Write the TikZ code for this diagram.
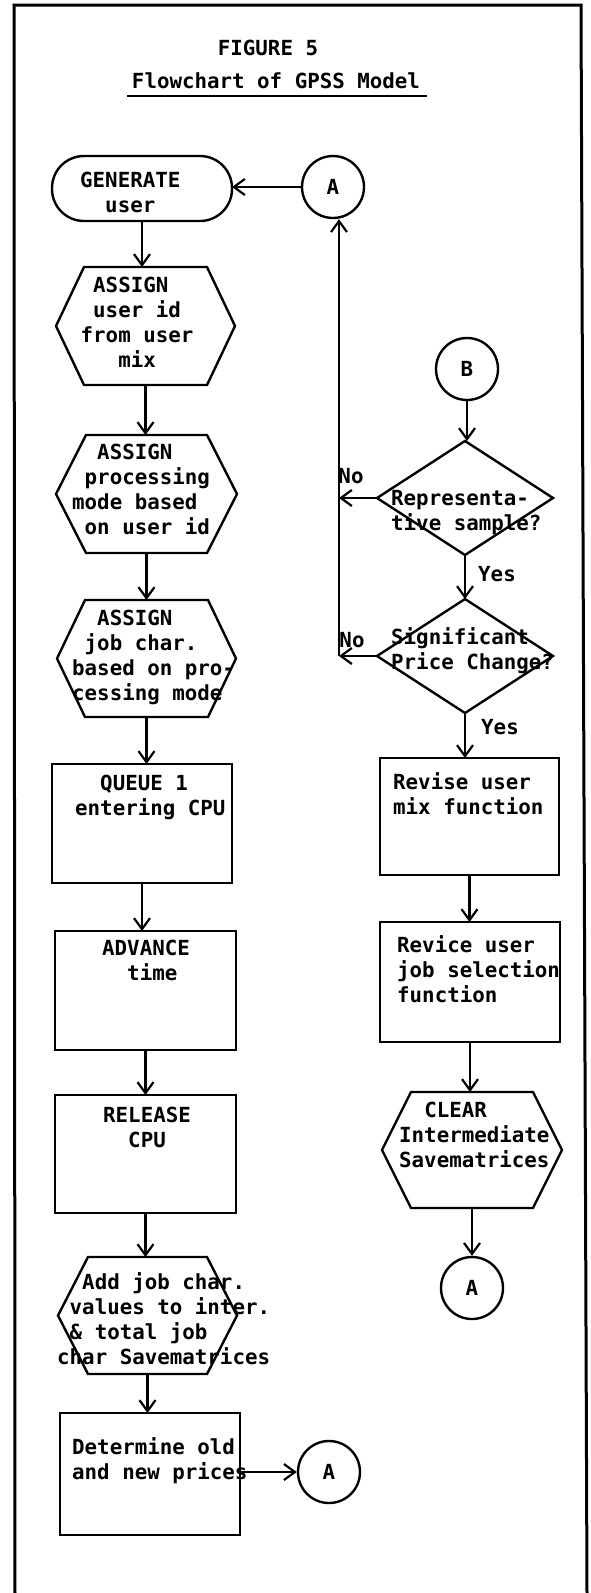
\documentclass[tikz,border=0pt]{standalone}
\usepackage{fontspec}
\setmonofont{DejaVu Sans Mono}
\usetikzlibrary{arrows.meta,shapes.geometric,calc}
\newcommand\tw{\ttfamily\bfseries\fontsize{20.8}{25}\selectfont}
\newcommand\hexpath[2]{\draw[shapeline,line join=miter] ([xshift=#2]#1.north west) -- ([xshift=-#2]#1.north east) -- (#1.east) -- ([xshift=-#2]#1.south east) -- ([xshift=#2]#1.south west) -- (#1.west) -- cycle;}
\begin{document}
\begin{tikzpicture}[x=1pt,y=-1pt,
  shapeline/.style={line width=2.4pt,black},
  arr/.style={line width=2.2pt,-{Straight Barb[length=11pt,width=16pt,line width=2.2pt]}},
  boxs/.style={draw,line width=2.4pt,inner sep=0pt,outer sep=0pt},
  hold/.style={inner sep=0pt,outer sep=0pt},
  txt/.style={anchor=north west,inner sep=0pt,align=left,font=\tw},
  ctxt/.style={anchor=center,inner sep=0pt,font=\tw},
  circ/.style={draw,circle,line width=2.4pt,minimum size=62pt,inner sep=0pt,font=\tw},
  dia/.style={draw,diamond,line width=2.4pt,minimum width=176pt,minimum height=114pt,inner sep=0pt,outer sep=0pt}
]
\useasboundingbox (0,0) rectangle (590,1593);
% frame
\draw[line width=3pt] (15,1593) -- (14,5) -- (581,5) -- (587,1593);
% title
\node[ctxt] (fig) at (268,48) {FIGURE 5};
\node[ctxt] (ttl) at (276,81) {Flowchart of GPSS Model};
\draw[line width=2pt] (127,96) -- (427,96);

% left column shapes
\node[boxs,rounded corners=32pt,minimum width=180pt,minimum height=65pt] (gen) at (142,188.5) {};
\node[hold,minimum width=179pt,minimum height=118pt] (as1) at (145.5,326) {};
\hexpath{as1}{28pt}
\node[hold,minimum width=181pt,minimum height=118pt] (as2) at (146.5,494) {};
\hexpath{as2}{30pt}
\node[hold,minimum width=179pt,minimum height=117pt] (as3) at (146.5,658.5) {};
\hexpath{as3}{28pt}
\node[boxs,minimum width=180pt,minimum height=119pt] (que) at (142,823.5) {};
\node[boxs,minimum width=181pt,minimum height=119pt] (adv) at (145.5,990.5) {};
\node[boxs,minimum width=181pt,minimum height=118pt] (rel) at (145.5,1154) {};
\node[hold,minimum width=179pt,minimum height=117pt] (add) at (147.5,1315.5) {};
\hexpath{add}{30pt}
\node[boxs,minimum width=180pt,minimum height=122pt] (det) at (150,1474) {};

% right column shapes
\node[circ] (A1) at (333,187) {A};
\node[circ] (B) at (467,369) {B};
\node[dia] (d1) at (465,498) {};
\node[dia] (d2) at (465,656) {};
\node[boxs,minimum width=179pt,minimum height=117pt] (rev1) at (469.5,816.5) {};
\node[boxs,minimum width=180pt,minimum height=120pt] (rev2) at (470,982) {};
\node[hold,minimum width=180pt,minimum height=116pt] (clr) at (472,1150) {};
\hexpath{clr}{29pt}
\node[circ] (A3) at (472,1288) {A};
\node[circ] (A2) at (329,1472) {A};
\coordinate (jn) at (339,656);

% texts
\node[txt] (gen-t) at (80,172) {GENERATE\\\phantom{xx}user};
\node[txt] (as1-t) at (80.5,277) {\phantom{x}ASSIGN\\\phantom{x}user id\\from user\\\phantom{xxx}mix};
\node[txt] (as2-t) at (72,444) {\phantom{xx}ASSIGN\\\phantom{x}processing\\mode based\\\phantom{x}on user id};
\node[txt] (as3-t) at (72,610) {\phantom{xx}ASSIGN\\\phantom{x}job char.\\based on pro-\\cessing mode};
\node[txt] (que-t) at (75,775) {\phantom{xx}QUEUE 1\\entering CPU};
\node[txt] (adv-t) at (102,940) {ADVANCE\\\phantom{xx}time};
\node[txt] (rel-t) at (103,1107) {RELEASE\\\phantom{xx}CPU};
\node[txt] (add-t) at (57,1272) {\phantom{xx}Add job char.\\\phantom{x}values to inter.\\\phantom{x}\& total job\\char Savematrices};
\node[txt] (det-t) at (72,1437) {Determine old\\and new prices};
\node[txt] (d1-t) at (391,490) {Representa-\\tive sample?};
\node[txt] (d2-t) at (391,627) {Significant\\Price Change?};
\node[txt] (rev1-t) at (393,772) {Revise user\\mix function};
\node[txt] (rev2-t) at (397,935) {Revice user\\job selection\\function};
\node[txt] (clr-t) at (399,1102) {\phantom{xx}CLEAR\\Intermediate\\Savematrices};
\node[ctxt] (no1) at (351,476) {No};
\node[ctxt] (no2) at (352,640) {No};
\node[ctxt] (yes1) at (497,574) {Yes};
\node[ctxt] (yes2) at (500,727) {Yes};

% connectors left
\draw[arr] (A1.west) -- (A1.west -| gen.east);
\draw[arr] (gen.south) -- (gen.south |- as1.north);
\draw[arr] (as1.south) -- (as1.south |- as2.north);
\draw[arr] (as2.south) -- (as2.south |- as3.north);
\draw[arr] (as3.south) -- (as3.south |- que.north);
\draw[arr] (que.south) -- (que.south |- adv.north);
\draw[arr] (adv.south) -- (adv.south |- rel.north);
\draw[arr] (rel.south) -- (rel.south |- add.north);
\draw[arr] (add.south) -- (add.south |- det.north);
\draw[arr] (A2.west -| det.east) -- (A2.west);
% connectors right
\draw[arr] (B.south) -- (B.south |- d1.north);
\draw[arr] (d1.south) -- (d1.south |- d2.north);
\draw[arr] (d2.south) -- (d2.south |- rev1.north);
\draw[arr] (rev1.south) -- (rev1.south |- rev2.north);
\draw[arr] (rev2.south) -- (rev2.south |- clr.north);
\draw[arr] (clr.south) -- (clr.south |- A3.north);
\draw[arr] (d1.west) -- (d1.west -| jn);
\draw[arr] (d2.west) -- (jn);
\draw[arr] (jn) -- (jn |- A1.south);
\end{tikzpicture}
\end{document}
